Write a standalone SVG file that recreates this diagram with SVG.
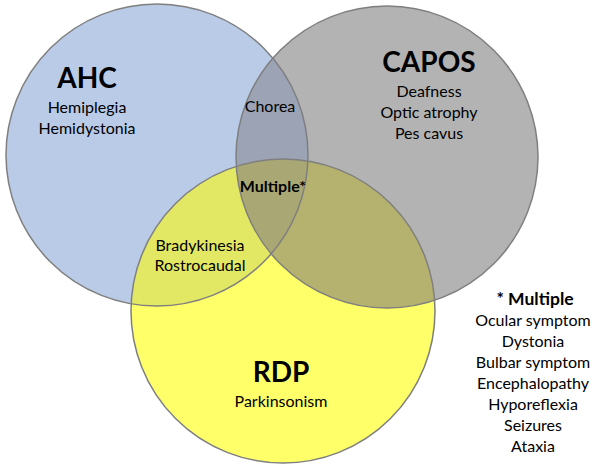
<svg xmlns="http://www.w3.org/2000/svg" width="600" height="467" viewBox="0 0 600 467">
<style>
text{font-family:Lato,"Open Sans","Liberation Sans",sans-serif;fill:#000;text-anchor:middle}
.t{font-size:28px;font-weight:bold}
.b{font-size:16px}
.bb{font-size:16px;font-weight:bold}
.l{font-size:16px}
.lb{font-size:17.5px;font-weight:bold}
.edge{fill:none;stroke:#7f7f7f;stroke-width:1.5}
</style>
<defs>
<clipPath id="cA"><circle cx="157" cy="155" r="151"/></clipPath>
<clipPath id="cB"><circle cx="387" cy="157" r="151"/></clipPath>
<clipPath id="cC"><circle cx="283" cy="311" r="152"/></clipPath>
</defs>
<g id="ahc">
<circle cx="157" cy="155" r="151" fill="#bacbe8"/>
</g>
<g id="capos">
<circle cx="387" cy="157" r="151" fill="#b3b3b3"/>
</g>
<g id="rdp">
<circle cx="283" cy="311" r="152" fill="#ffff6a"/>
</g>
<g id="overlaps">
<circle cx="387" cy="157" r="151" fill="#9ba3b5" clip-path="url(#cA)"/>
<circle cx="283" cy="311" r="152" fill="#e3e864" clip-path="url(#cA)"/>
<circle cx="283" cy="311" r="152" fill="#b5b26f" clip-path="url(#cB)"/>
<g clip-path="url(#cA)"><circle cx="283" cy="311" r="152" fill="#a9a874" clip-path="url(#cB)"/></g>
</g>
<g id="outlines">
<circle class="edge" cx="157" cy="155" r="151"/>
<circle class="edge" cx="387" cy="157" r="151"/>
<circle class="edge" cx="283" cy="311" r="152"/>
</g>
<g id="ahc-labels">
<text class="t" x="87" y="88">AHC</text>
<text class="b" x="87" y="113">Hemiplegia</text>
<text class="b" x="87" y="134">Hemidystonia</text>
</g>
<g id="capos-labels">
<text class="t" x="429" y="72">CAPOS</text>
<text class="b" x="429" y="97">Deafness</text>
<text class="b" x="429" y="118">Optic atrophy</text>
<text class="b" x="429" y="139">Pes cavus</text>
</g>
<g id="rdp-labels">
<text class="t" x="281" y="382">RDP</text>
<text class="b" x="281" y="407">Parkinsonism</text>
</g>
<g id="ahc-capos">
<text class="b" x="270" y="112">Chorea</text>
</g>
<g id="ahc-rdp">
<text class="b" x="200" y="251">Bradykinesia</text>
<text class="b" x="200" y="271">Rostrocaudal</text>
</g>
<g id="all-three">
<text class="bb" x="273" y="192">Multiple*</text>
</g>
<g id="legend">
<text class="lb" x="535" y="305">* Multiple</text>
<text class="l" x="533" y="326">Ocular symptom</text>
<text class="l" x="533" y="347">Dystonia</text>
<text class="l" x="533" y="368">Bulbar symptom</text>
<text class="l" x="533" y="389">Encephalopathy</text>
<text class="l" x="533" y="410">Hyporeflexia</text>
<text class="l" x="533" y="431">Seizures</text>
<text class="l" x="533" y="452">Ataxia</text>
</g>
</svg>
